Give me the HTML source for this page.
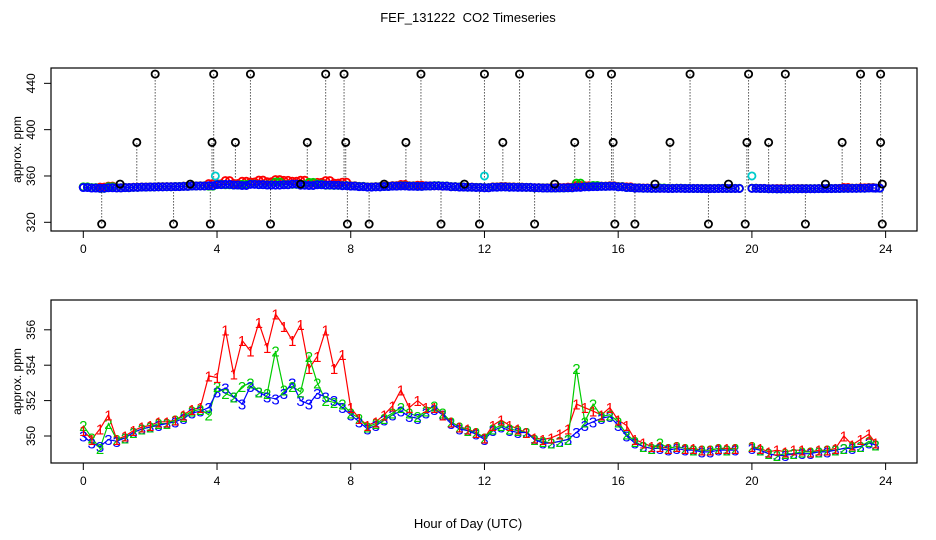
<!DOCTYPE html>
<html><head><meta charset="utf-8"><style>
html,body{margin:0;padding:0;background:#fff;}
svg{display:block;font-family:"Liberation Sans",sans-serif;}
</style></head><body>
<svg id="chart" width="936" height="540" viewBox="0 0 936 540" xmlns="http://www.w3.org/2000/svg">
<rect width="936" height="540" fill="#fff"/>
<text x="468" y="22" font-size="13" text-anchor="middle">FEF_131222&#160; CO2 Timeseries</text>
<text x="468" y="528" font-size="13" text-anchor="middle">Hour of Day (UTC)</text>
<g id="top"></g>
<g id="bot"></g>
</svg>
<script>
const times = [0,0.25,0.5,0.75,1,1.25,1.5,1.75,2,2.25,2.5,2.75,3,3.25,3.5,3.75,4,4.25,4.5,4.75,5,5.25,5.5,5.75,6,6.25,6.5,6.75,7,7.25,7.5,7.75,8,8.25,8.5,8.75,9,9.25,9.5,9.75,10,10.25,10.5,10.75,11,11.25,11.5,11.75,12,12.25,12.5,12.75,13,13.25,13.5,13.75,14,14.25,14.5,14.75,15,15.25,15.5,15.75,16,16.25,16.5,16.75,17,17.25,17.5,17.75,18,18.25,18.5,18.75,19,19.25,19.5,19.75,20,20.25,20.5,20.75,21,21.25,21.5,21.75,22,22.25,22.5,22.75,23,23.25,23.5,23.7];
const series1 = [350.3,349.8,350.4,351.2,349.8,350.0,350.3,350.5,350.6,350.8,350.8,350.9,351.2,351.5,351.6,353.4,353.3,356.0,353.5,355.4,354.8,356.4,355.0,356.9,356.2,355.4,356.3,353.8,354.5,356.0,353.8,354.6,351.6,351.0,350.6,350.8,351.2,351.7,352.6,351.6,352.0,351.6,351.6,351.2,350.8,350.5,350.4,350.2,349.9,350.6,350.9,350.6,350.4,350.2,349.9,349.8,349.9,350.1,350.4,351.8,351.6,351.4,351.2,351.6,350.9,350.6,349.8,349.6,349.4,349.4,349.3,349.4,349.3,349.3,349.2,349.2,349.3,349.3,349.3,null,349.4,349.3,349.1,349.2,349.1,349.2,349.2,349.1,349.2,349.2,349.3,350.0,349.5,349.8,350.1,349.6];
const series2 = [350.6,349.9,349.3,350.7,349.8,349.9,350.2,350.4,350.5,350.7,350.7,350.9,351.1,351.4,351.5,351.2,352.8,352.4,352.2,352.8,353.0,352.5,352.4,354.8,352.6,352.8,352.5,354.5,353.0,352.0,351.9,351.8,351.3,351.0,350.5,350.7,351.0,351.3,351.6,351.3,351.1,351.4,351.7,351.3,350.8,350.5,350.3,350.2,349.9,350.4,350.6,350.4,350.3,350.2,349.8,349.7,349.6,349.7,349.8,353.8,350.8,351.8,351.1,351.2,350.8,350.1,349.7,349.4,349.3,349.6,349.3,349.4,349.3,349.2,349.2,349.2,349.3,349.2,349.3,null,349.4,349.2,349.0,348.9,349.0,349.0,349.1,349.1,349.1,349.2,349.2,349.3,349.4,349.4,349.7,349.5];
const series3 = [350.0,349.6,349.4,349.8,349.7,349.9,350.2,350.4,350.5,350.6,350.7,350.8,351.0,351.3,351.4,351.6,352.5,352.7,352.2,351.8,352.8,352.5,352.2,352.1,352.4,353.0,352.0,351.8,352.4,352.2,352.0,351.6,351.2,350.8,350.4,350.6,350.9,351.2,351.4,351.1,351.0,351.3,351.5,351.2,350.7,350.4,350.3,350.1,349.8,350.3,350.5,350.3,350.2,350.2,349.8,349.6,349.6,349.7,349.8,350.2,350.6,350.8,351.0,351.1,350.6,350.0,349.6,349.4,349.3,349.3,349.2,349.3,349.2,349.2,349.1,349.1,349.2,349.2,349.2,null,349.3,349.2,349.0,348.9,348.9,349.0,349.0,349.0,349.1,349.1,349.2,349.3,349.3,349.4,349.6,349.5];
const outlierTimes = [2.15,3.9,5.0,7.25,7.8,10.1,12.0,13.05,15.15,15.8,18.15,19.9,21.0,23.25,23.85,1.6,3.85,4.55,6.7,7.85,9.65,12.55,14.7,15.85,17.55,19.85,20.5,22.7,23.85,0.55,2.7,3.8,5.6,7.9,8.55,10.7,11.85,13.5,15.9,16.5,18.7,19.8,21.6,23.9,1.1,3.2,6.5,9.0,11.4,14.1,17.1,19.3,22.2,23.9];
const outlierValues = [448,448,448,448,448,448,448,448,448,448,448,448,448,448,448,389,389,389,389,389,389,389,389,389,389,389,389,389,389,318.5,318.5,318.5,318.5,318.5,318.5,318.5,318.5,318.5,318.5,318.5,318.5,318.5,318.5,318.5,353,353,353,353,353,353,353,353,353,353];
const cyanTimes = [3.95,12.0,20.0];
const cyanValues = [360,360,360];
const xTicks = [0,4,8,12,16,20,24];
const topYTicks = [320,360,400,440];
const botYTicks = [350,352,354,356];

const NS="http://www.w3.org/2000/svg";
function mk(tag,attrs,parent){const e=document.createElementNS(NS,tag);for(const k in attrs)e.setAttribute(k,attrs[k]);parent.appendChild(e);return e;}
const X = t => 83.3 + t*33.43;
const YT = v => 222.3 - (v-320)*1.158;
const YB = v => 436 - (v-350)*17.7;
const colors = ['#ff0000','#00cc00','#0000ff'];
const allSeries = [series1,series2,series3];

function frame(g, top, bot, yTicks, Y, name){
  let r = mk('rect',{x:51,y:top,width:866,height:bot-top,fill:'none',stroke:'#000','stroke-width':1.2},g);
  
  
  xTicks.forEach(t=>{
    let l = mk('line',{x1:X(t),x2:X(t),y1:bot,y2:bot+7,stroke:'#000'},g);
    
    
    let tx = mk('text',{x:X(t),y:bot+22,'font-size':12,'text-anchor':'middle'},g);
    
    
    tx.textContent = t;
  });
  yTicks.forEach(v=>{
    let l = mk('line',{x1:44,x2:51,y1:Y(v),y2:Y(v),stroke:'#000'},g);
    
    
    let tx = mk('text',{x:0,y:0,'font-size':12,'text-anchor':'middle',transform:`translate(35,${Y(v)}) rotate(-90)`},g);
    
    
    tx.textContent = v;
  });
  let yt = mk('text',{x:0,y:0,'font-size':12,'text-anchor':'middle',transform:`translate(21,${(top+bot)/2}) rotate(-90)`},g);
  
  
  yt.textContent = 'approx. ppm';
}
function path(s, Y){
  let d='', pen=false;
  s.forEach((v,i)=>{ if(v==null){pen=false;return;} d += (pen?'L':'M')+X(times[i]).toFixed(1)+','+Y(v).toFixed(1); pen=true; });
  return d;
}

// TOP PANEL
const gt = document.getElementById('top');
frame(gt, 68, 231, topYTicks, YT, 'top');
outlierTimes.forEach((t,i)=>{
  let l = mk('line',{x1:X(t),x2:X(t),y1:YT(351),y2:YT(outlierValues[i]),stroke:'#000','stroke-width':1,'stroke-dasharray':'1,2'},gt);
  
  
});
allSeries.forEach((s,k)=>{
  let p = mk('path',{d:path(s,YT),fill:'none',stroke:colors[k],'stroke-width':1},gt);
  
  
  s.forEach((v,i)=>{ if(v==null)return;
    [0,0.125].forEach(off=>{
      let c = mk('circle',{cx:X(times[i]+off),cy:YT(v),r:3.6,fill:'none',stroke:colors[k],'stroke-width':1.8},gt);
      
      
    });
  });
});
outlierTimes.forEach((t,i)=>{
  let c = mk('circle',{cx:X(t),cy:YT(outlierValues[i]),r:3.6,fill:'none',stroke:'#000','stroke-width':1.8},gt);
  
  
});
cyanTimes.forEach((t,i)=>{
  let c = mk('circle',{cx:X(t),cy:YT(cyanValues[i]),r:3.6,fill:'none',stroke:'#00cccc','stroke-width':1.8},gt);
  
  
});

// BOTTOM PANEL
const gb = document.getElementById('bot');
frame(gb, 300, 463, botYTicks, YB, 'bottom');
allSeries.forEach((s,k)=>{
  let p = mk('path',{d:path(s,YB),fill:'none',stroke:colors[k],'stroke-width':1.2},gb);
  
  
});
[2,1,0].forEach(k=>{
  allSeries[k].forEach((v,i)=>{ if(v==null)return;
    let tx = mk('text',{x:X(times[i]),y:YB(v)+5.5,'font-size':15,'text-anchor':'middle',fill:colors[k]},gb);
    
    
    tx.textContent = String(k+1);
  });
});
</script>
</body></html>
